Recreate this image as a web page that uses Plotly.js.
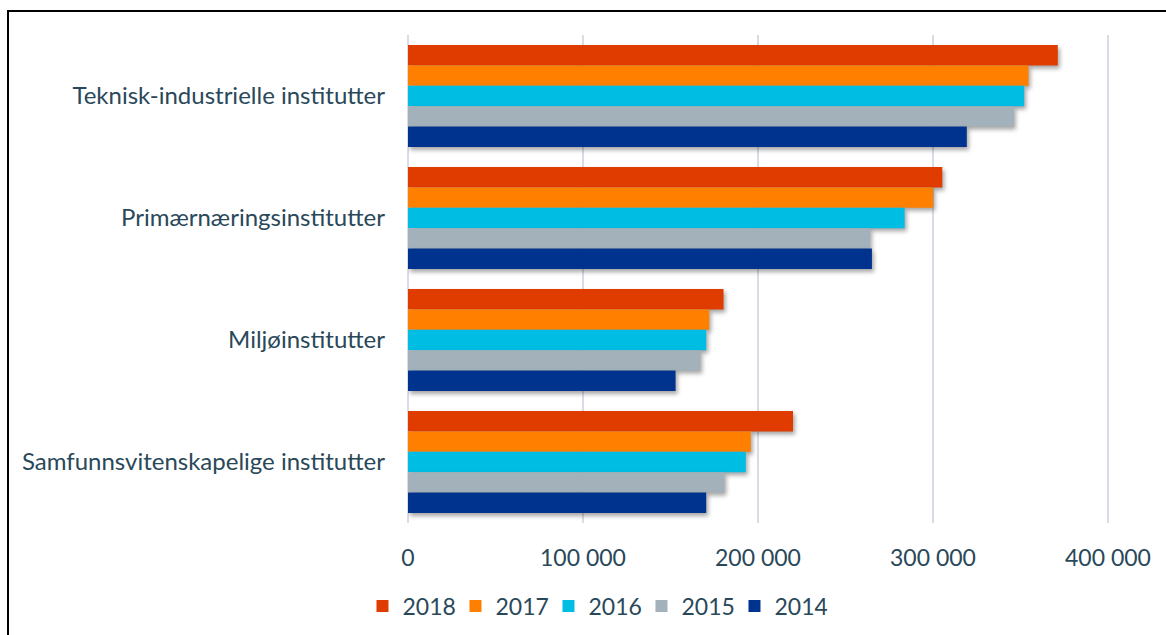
<!DOCTYPE html>
<html>
<head>
<meta charset="utf-8">
<script src="https://cdn.plot.ly/plotly-3.0.1.min.js"></script>
<style>
  html, body { margin: 0; padding: 0; background: #fff; }
  #wrap { position: relative; width: 1166px; height: 635px; }
  #chart { width: 1166px; height: 635px; }
  #frame { position: absolute; left: 7px; top: 10px; right: 0; bottom: 0;
           border-left: 2.5px solid #000; border-top: 2.5px solid #000; pointer-events: none; }
  .barlayer .point path { filter: drop-shadow(2px 3px 2px rgba(0,0,0,0.35)); }
</style>
</head>
<body>
<div id="wrap">
  <div id="chart"></div>
  <div id="frame"></div>
</div>
<script>
const categories = [
  "Teknisk-industrielle institutter",
  "Primærnæringsinstitutter",
  "Miljøinstitutter",
  "Samfunnsvitenskapelige institutter"
];
const years = ["2018", "2017", "2016", "2015", "2014"];
const values2018 = [371300, 305300, 180300, 220000];
const values2017 = [354600, 300100, 172100, 195900];
const values2016 = [352100, 283800, 170400, 193000];
const values2015 = [346200, 264000, 167000, 180800];
const values2014 = [319300, 265100, 152900, 170400];
const colors = ["#E03C00", "#FF7F00", "#00BDE3", "#A2B1BA", "#00338D"];
const tickValues = [0, 100000, 200000, 300000, 400000];

const seriesValues = [values2018, values2017, values2016, values2015, values2014];
const textColor = "#294859";
const fam = "Lato, 'Open Sans', sans-serif";
const font = { family: fam, size: 23, color: textColor };
const catFont = { family: fam, size: 24, color: textColor };

const traces = years.map((y, i) => ({
  type: "bar",
  orientation: "h",
  name: y,
  x: seriesValues[i],
  y: categories,
  marker: { color: colors[i], line: { width: 0 } },
  hoverinfo: "x+name"
}));

const layout = {
  width: 1166,
  height: 635,
  margin: { l: 407.5, r: 16, t: 35, b: 112, autoexpand: false },
  paper_bgcolor: "#ffffff",
  plot_bgcolor: "#ffffff",
  font: font,
  separators: ", ",
  barmode: "group",
  bargap: 0.164,
  bargroupgap: 0,
  showlegend: true,
  legend: {
    orientation: "h",
    x: 0.252, xanchor: "center",
    y: -0.170, yanchor: "middle",
    font: font,
    traceorder: "normal",
    entrywidth: 48,
    entrywidthmode: "pixels",
    itemclick: false
  },
  xaxis: {
    range: [0, 424000],
    tickvals: tickValues,
    tickformat: ",d",
    showgrid: true,
    gridcolor: "#D9DCE6",
    gridwidth: 2,
    zeroline: true,
    zerolinecolor: "#D9DCE6",
    zerolinewidth: 2,
    showline: false,
    ticks: "",
    ticklabelstandoff: 19,
    tickfont: font,
    fixedrange: true
  },
  yaxis: {
    type: "category",
    categoryorder: "array",
    categoryarray: categories,
    autorange: "reversed",
    showgrid: false,
    zeroline: false,
    showline: false,
    ticks: "",
    ticklabelstandoff: 22,
    tickfont: catFont,
    fixedrange: true
  }
};

Plotly.newPlot("chart", traces, layout, { displayModeBar: false, staticPlot: true });
</script>
</body>
</html>
